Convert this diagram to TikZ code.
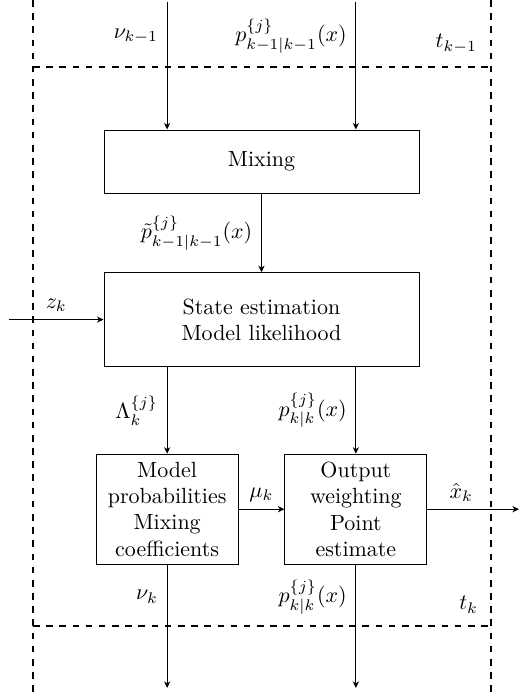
\documentclass[tikz,border=0pt]{standalone}
\usepackage{amsmath}
\usepackage{amssymb}
\usepackage{tikz}
\usetikzlibrary{arrows.meta, positioning, calc}

\begin{document}
\begin{tikzpicture}[
  node distance = 1.26cm and 0.77cm,
  block/.style  = {draw, minimum width=5.04cm, align=center},
  small/.style  = {draw, minimum width=2.27cm, minimum height=1.76cm,
                   align=center, inner sep=2pt},
  arr/.style    = {-{Stealth[length=3pt, width=2.8pt, inset=0.9pt]}},
  slot/.style   = {dashed, thick},
  elabel/.style = {midway, left, inner sep=4pt}
]

\useasboundingbox (-4.184,2.584) rectangle (4.136,-8.504);

\node[block, minimum height=1.01cm] (mixing) {Mixing};
\node[block, minimum height=1.50cm, below=of mixing] (state)
     {State estimation\\Model likelihood};

% columns below the state block
\coordinate (cl) at ($(state.south)+(-1.51,0)$);
\coordinate (cr) at ($(state.south)+(1.51,0)$);
\node[small, below=1.39cm of cl] (prob)
     {Model\\probabilities\\Mixing\\coefficients};
\node[small, below=1.39cm of cr] (output)
     {Output\\weighting\\Point\\estimate};

% free ends of the in/out arrows
\coordinate (nuin) at ($(mixing.north)+(-1.51,2.047)$);
\coordinate (pin)  at ($(mixing.north)+(1.51,2.047)$);
\coordinate (zin)  at (-4.04,0 |- state.west);
\coordinate (xout) at (4.12,0 |- output.east);
\coordinate (nuout) at (prob.south |- 0,-8.424);
\coordinate (pout)  at (output.south |- 0,-8.424);

% time slot k
\coordinate (tl) at (-3.656,2.584);
\coordinate (bl) at (-3.656,-8.504);
\coordinate (tr) at (3.672,2.584);
\coordinate (br) at (3.672,-8.504);
\draw[slot] (tl) -- (bl);
\draw[slot] (tr) -- (br);
\draw[slot] (-3.656,1.512) -- (3.672,1.512)
      node[above left, inner sep=6pt] (tprev) {$t_{k-1}$};
\draw[slot] (-3.656,-7.432) -- (3.672,-7.432)
      node[above left, inner sep=5.5pt] (tnow) {$t_k$};

\draw[arr] (nuin) -- node[elabel, pos=0.27]{$\nu_{k-1}$} (nuin |- mixing.north);
\draw[arr] (pin) -- node[elabel, pos=0.27]{$p^{\{j\}}_{k-1|k-1}(x)$} (pin |- mixing.north);
\draw[arr] (mixing) -- node[elabel]{$\tilde{p}^{\{j\}}_{k-1|k-1}(x)$} (state);
\draw[arr] (zin) -- node[midway, above]{$z_k$} (state.west);
\draw[arr] (cl) -- node[elabel]{$\Lambda^{\{j\}}_k$} (prob.north);
\draw[arr] (cr) -- node[elabel]{$p^{\{j\}}_{k|k}(x)$} (output.north);
\draw[arr] (prob) -- node[midway, above]{$\mu_k$} (output);
\draw[arr] (output) -- node[above, pos=0.37]{$\hat{x}_k$} (xout);
\draw[arr] (prob) -- node[elabel, pos=0.26]{$\nu_k$} (nuout);
\draw[arr] (output) -- node[elabel, pos=0.26]{$p^{\{j\}}_{k|k}(x)$} (pout);

\end{tikzpicture}
\end{document}
